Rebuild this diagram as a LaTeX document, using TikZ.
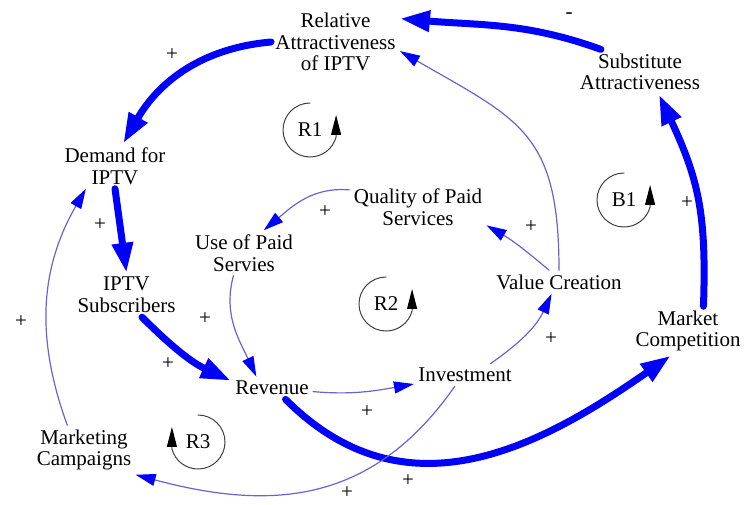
\documentclass[tikz,border=0pt]{standalone}
\usepackage{fontspec}
\setmainfont{Liberation Serif}
\usetikzlibrary{arrows.meta}

\definecolor{linkblue}{rgb}{0.42,0.38,0.82}

\begin{document}
\begin{tikzpicture}[x=0.5pt,y=-0.5pt,line cap=round,line join=round,
  var/.style={align=center,inner sep=2pt,font=\fontsize{10.5}{10.8}\selectfont},
  sign/.style={inner sep=0pt,font=\fontsize{10.5}{10.8}\selectfont},
  fatlink/.style={draw=blue,line width=3.5pt,-{Triangle[length=15pt,width=10pt]}},
  thinlink/.style={draw=linkblue,line width=0.6pt,-{Triangle[length=10pt,width=6pt,color=blue]}},
  loopmark/.style={draw=black!75,line width=0.5pt,-{Triangle[length=10pt,width=5pt,color=black]}}]
 		\useasboundingbox (0,0) rectangle (744,504);
 		% variables
 		\node[var] (rel) at (335.5,42) {Relative\\Attractiveness\\of IPTV};
 		\node[var] (subst) at (640,72) {Substitute\\Attractiveness};
 		\node[var] (dem) at (115,166) {Demand for\\IPTV};
 		\node[var] (subs) at (126.5,295) {IPTV\\Subscribers};
 		\node[var] (use) at (244,253) {Use of Paid\\Servies};
 		\node[var] (qual) at (418,207) {Quality of Paid\\Services};
 		\node[var] (val) at (559,282) {Value Creation};
 		\node[var] (comp) at (688,331) {Market\\Competition};
 		\node[var] (rev) at (272,388) {Revenue};
 		\node[var] (inv) at (465,375) {Investment};
 		\node[var] (mkt) at (84,450) {Marketing\\Campaigns};
 		% links
 		\draw[fatlink] (rel.west) to[out=185,in=60] (dem.70);
 		\draw[fatlink] (subst.150) to[out=160,in=355] (rel.20);
 		\draw[fatlink] (comp.58) to[out=88,in=295,looseness=1.1] (subst.-50);
 		\draw[fatlink] (rev.-40) to[out=315,in=215,looseness=1.1] (comp.235);
 		\draw[fatlink] (dem.south) -- (subs.north);
 		\draw[fatlink] (subs.-55) to[out=-45,in=155] (rev.170);
 		\draw[thinlink] (use.245) to[out=255,in=115] (rev.144);
 		\draw[thinlink] (qual.166) to[out=175,in=40] (use.49);
 		\draw[thinlink] (val.130) to[out=140,in=-30] (qual.-15);
 		\draw[thinlink] (val.north) to[out=90,in=-30,looseness=1.3] (rel.-8);
 		\draw[thinlink] (rev.-5) to[out=-5,in=190] (inv.190);
 		\draw[thinlink] (inv.24) to[out=35,in=245] (val.238);
 		\draw[thinlink] (inv.228) to[out=235,in=-15,looseness=1.1] (mkt.south east);
 		\draw[thinlink] (mkt.124) to[out=110,in=240] (dem.218);
 		% polarities
 		\node[sign] (s1) at (172,55) {+};
 		\node[sign] (s2) at (569,16) {-};
 		\node[sign] (s3) at (687,203) {+};
 		\node[sign] (s4) at (100,225) {+};
 		\node[sign] (s5) at (325,212) {+};
 		\node[sign] (s6) at (21,322) {+};
 		\node[sign] (s7) at (205,319) {+};
 		\node[sign] (s8) at (168,364) {+};
 		\node[sign] (s9) at (367,412) {+};
 		\node[sign] (s10) at (347,493) {+};
 		\node[sign] (s11) at (408,481) {+};
 		\node[sign] (s12) at (551,339) {+};
 		\node[sign] (s13) at (531,227) {+};
 		% loops
 		\node[var] (r1) at (310,130) {R1};
 		\node[var] (r2) at (386,304) {R2};
 		\node[var] (b1) at (624,200) {B1};
 		\node[var] (r3) at (198,442) {R3};
 		\draw[loopmark] (r1.center) ++(90:13.5pt) arc[start angle=90,end angle=345,radius=13.5pt] -- ++(0,-22);
 		\draw[loopmark] (r2.center) ++(90:13.5pt) arc[start angle=90,end angle=345,radius=13.5pt] -- ++(0,-22);
 		\draw[loopmark] (b1.center) ++(90:13.5pt) arc[start angle=90,end angle=345,radius=13.5pt] -- ++(0,-22);
 		\draw[loopmark] (r3.center) ++(90:13.5pt) arc[start angle=90,end angle=-165,radius=13.5pt] -- ++(0,-22);
 	\end{tikzpicture}
\end{document}
